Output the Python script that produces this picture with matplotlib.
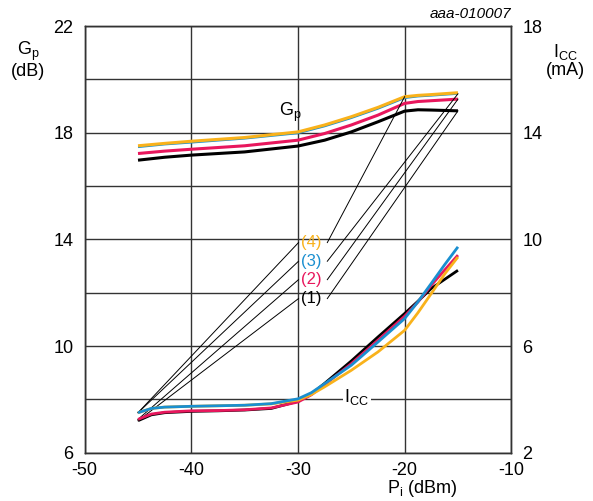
import matplotlib
matplotlib.use("Agg")
import matplotlib.pyplot as plt

plt.rcParams['font.family'] = ['Liberation Sans', 'DejaVu Sans']
plt.rcParams['mathtext.fontset'] = 'custom'
plt.rcParams['mathtext.rm'] = 'Liberation Sans'
plt.rcParams['mathtext.it'] = 'Liberation Sans:italic'
plt.rcParams['axes.unicode_minus'] = False

# data ------------------------------------------------------------------------
pi_gp = [-45, -42.5, -40, -35, -30, -27.5, -25, -22.5, -20, -18.75, -17.5, -15]
gp_1 = [16.97, 17.08, 17.16, 17.28, 17.50, 17.72, 18.03, 18.41, 18.81, 18.86, 18.85, 18.82]
gp_2 = [17.22, 17.31, 17.38, 17.51, 17.72, 17.97, 18.29, 18.66, 19.10, 19.17, 19.20, 19.26]
gp_3 = [17.46, 17.56, 17.63, 17.78, 17.98, 18.24, 18.55, 18.90, 19.30, 19.36, 19.39, 19.46]
gp_4 = [17.51, 17.60, 17.68, 17.82, 18.03, 18.29, 18.60, 18.95, 19.35, 19.40, 19.43, 19.50]

pi_icc = [-45, -43.75, -42.5, -40, -37.5, -35, -32.5, -30, -28.75, -27.5, -25,
          -22.5, -20, -18.75, -17.5, -16.25, -15]
icc_1 = [3.20, 3.42, 3.50, 3.55, 3.57, 3.60, 3.66, 3.93, 4.20, 4.60, 5.44,
         6.34, 7.22, 7.68, 8.16, 8.50, 8.84]
icc_2 = [3.25, 3.45, 3.52, 3.57, 3.58, 3.61, 3.68, 3.90, 4.17, 4.55, 5.34,
         6.22, 7.12, 7.65, 8.28, 8.85, 9.41]
icc_3 = [3.50, 3.66, 3.71, 3.74, 3.76, 3.78, 3.84, 4.02, 4.25, 4.59, 5.28,
         6.15, 7.03, 7.66, 8.35, 9.05, 9.72]
icc_4 = [3.50, 3.66, 3.71, 3.74, 3.76, 3.78, 3.83, 3.97, 4.18, 4.47, 5.09,
         5.78, 6.59, 7.25, 7.97, 8.70, 9.34]

x_ticks = [-50, -40, -30, -20, -10]
gp_ticks = [6, 10, 14, 18, 22]
icc_ticks = [2, 6, 10, 14, 18]

labels = ['(1)', '(2)', '(3)', '(4)']
colors = ['#000000', '#e8175d', '#1a8fd0', '#f9b21b']

# figure ----------------------------------------------------------------------
fig = plt.figure(figsize=(5.93, 5.01), dpi=100)
ax = fig.add_axes([0.1428, 0.0964, 0.7194, 0.8516])
ax2 = ax.twinx()

ax.set_xlim(-50, -10)
ax.set_ylim(6, 22)
ax2.set_ylim(2, 18)
icc_offset = 4  # left axis value minus right axis value

ax.set_xticks(x_ticks)
ax.set_yticks(gp_ticks)
ax.set_yticks([8, 12, 16, 20], minor=True)
ax2.set_yticks(icc_ticks)
ax.grid(True, which='both', color='#333333', linewidth=1.0)
ax.tick_params(which='both', length=0, labelsize=13)
ax.tick_params(axis='y', pad=8)
ax.tick_params(axis='x', pad=7)
ax2.tick_params(length=0, labelsize=13, pad=8)
for a in (ax, ax2):
    for s in a.spines.values():
        s.set_color('#333333')
        s.set_linewidth(1.0)

# Gp curves
gps = [gp_1, gp_2, gp_3, gp_4]
widths = [2.2, 2.2, 1.4, 2.2]
for g, c, w in zip(gps, colors, widths):
    ax.plot(pi_gp, g, color=c, linewidth=w, solid_capstyle='butt', zorder=3)

# Icc curves (right axis)
iccs = [icc_1, icc_2, icc_4, icc_3]
icc_cols = [colors[0], colors[1], colors[3], colors[2]]
for i, c in zip(iccs, icc_cols):
    ax2.plot(pi_icc, i, color=c, linewidth=2.0, solid_capstyle='butt', zorder=3)

# curve labels with leader lines
lab_x = -28.75
lab_y = [11.78, 12.49, 13.18, 13.88]
left_ends = [icc_1[0], icc_2[0], icc_3[0], icc_4[0]]
right_pts = [(pi_gp[-1], gp_1[-1]), (pi_gp[-1], gp_2[-1]),
             (pi_gp[-1], gp_3[-1]), (pi_gp[8], gp_4[8])]
for lab, c, y, le, rp in zip(labels, colors, lab_y, left_ends, right_pts):
    ax.text(lab_x, y, lab, color=c, fontsize=12, ha='center', va='center', zorder=5)
    ax.plot([pi_icc[0], -29.95], [le + icc_offset, y], color='black',
            linewidth=0.7, zorder=4)
    ax.plot([-27.25, rp[0]], [y, rp[1]], color='black', linewidth=0.7, zorder=4)

ax.text(-30.7, 18.78, r'$\mathrm{G_p}$', fontsize=13, ha='center', va='center')
ax.text(-24.5, 8.08, r'$\mathrm{I_{CC}}$', fontsize=13, ha='center', va='center',
        bbox=dict(facecolor='white', edgecolor='none', pad=1), zorder=5)

# axis titles
fig.text(0.047, 0.88, 'G$_\\mathrm{p}$\n(dB)', fontsize=13, ha='center',
         va='center', linespacing=1.0)
fig.text(0.953, 0.88, 'I$_\\mathrm{CC}$\n(mA)', fontsize=13, ha='center',
         va='center', linespacing=1.0)
fig.text(0.712, 0.003, 'P$_\\mathrm{i}$ (dBm)', fontsize=13, ha='center', va='bottom')
fig.text(0.862, 0.972, 'aaa-010007', fontsize=11, style='italic', ha='right',
         va='center')

fig.savefig('out.png', dpi=100)
